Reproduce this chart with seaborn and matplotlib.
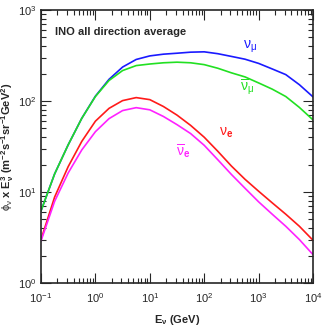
import matplotlib
matplotlib.use("Agg")
import matplotlib.pyplot as plt
import seaborn as sns
import pandas as pd

# energia del neutrino (GeV) y flujo x E^3
energia = [0.1, 0.178, 0.316, 0.562, 1, 1.78, 3.16, 5.62, 10, 17.8, 31.6,
           56.2, 100, 178, 316, 562, 1000, 1780, 3160, 5620, 10000]
flujo_numu = [6.2, 15.8, 33, 64.6, 113, 173, 236, 286, 313, 327, 335,
              344, 347, 331, 309, 288, 259, 225, 195, 151, 111]
flujo_numubar = [6.2, 15.8, 33, 64.5, 112, 168, 216, 245, 255, 263, 267,
                 263, 251, 229, 204, 184, 158, 135, 112, 85, 62]
flujo_nue = [3.0, 8.8, 19, 36, 60, 83, 101, 109, 103.5, 87, 70,
             54, 40, 28, 19.3, 13.8, 10.2, 7.6, 5.7, 4.2, 2.95]
flujo_nuebar = [2.9, 7.9, 16.2, 29, 46, 64, 78.5, 84.5, 80, 67.6, 55,
                43.9, 32.6, 22.6, 15.6, 11.0, 7.8, 5.7, 4.2, 3.0, 2.05]

nombres = [r'$\nu_\mu$', r'$\overline{\nu}_\mu$', r'$\nu_\mathbf{e}$', r'$\overline{\nu}_\mathbf{e}$']
colores = ['#1a1aff', '#22e022', '#ff1a1a', '#ff22ff']
# posicion de las etiquetas (datos)
etiquetas_x = [695, 612, 251, 41]
etiquetas_y = [392, 142, 44.5, 28.3]

sns.set_style("ticks")
plt.rcParams['font.family'] = ['Liberation Sans', 'DejaVu Sans']
plt.rcParams['mathtext.fontset'] = 'custom'
plt.rcParams['mathtext.rm'] = 'Liberation Sans'
plt.rcParams['mathtext.it'] = 'Liberation Sans:italic'
plt.rcParams['mathtext.bf'] = 'Liberation Sans:bold'
plt.rcParams['mathtext.default'] = 'regular'

fig = plt.figure(figsize=(3.27, 3.28), dpi=100)
ax = fig.add_axes([41 / 327, 1 - 283 / 328, 272 / 327, 273 / 328])

todos = [flujo_numu, flujo_numubar, flujo_nue, flujo_nuebar]
for valores, nombre, color, ex, ey in zip(todos, nombres, colores, etiquetas_x, etiquetas_y):
    df = pd.DataFrame({'E': energia, 'flujo': valores})
    sns.lineplot(data=df, x='E', y='flujo', color=color, linewidth=1.2, ax=ax)
    ax.text(ex, ey, nombre, color=color, fontsize=10, ha='center', va='center')

ax.set_xscale('log')
ax.set_yscale('log')
ax.set_xlim(0.1, 1e4)
ax.set_ylim(1, 1e3)

ax.text(0.051, 0.92, 'INO all direction average', transform=ax.transAxes,
        fontsize=8, fontweight='bold', ha='left', va='center')

ax.set_xlabel(r'$\mathbf{E}_\nu$ (GeV)', fontsize=8, fontweight='bold', labelpad=6)
ax.set_ylabel(r'$\phi_\nu$ $\mathbf{x\ E_\nu^3\ (m^{-2}s^{-1}sr^{-1}GeV^2)}$',
              fontsize=8, labelpad=2)

ax.tick_params(which='both', direction='in', top=True, right=True, width=0.8, labelsize=8)
ax.tick_params(which='major', length=7)
ax.tick_params(which='minor', length=3.5)
ax.tick_params(axis='x', which='major', pad=6)
ax.tick_params(axis='y', which='major', pad=3)
for s in ax.spines.values():
    s.set_linewidth(1.2)

fig.savefig('out.png', dpi=100)
